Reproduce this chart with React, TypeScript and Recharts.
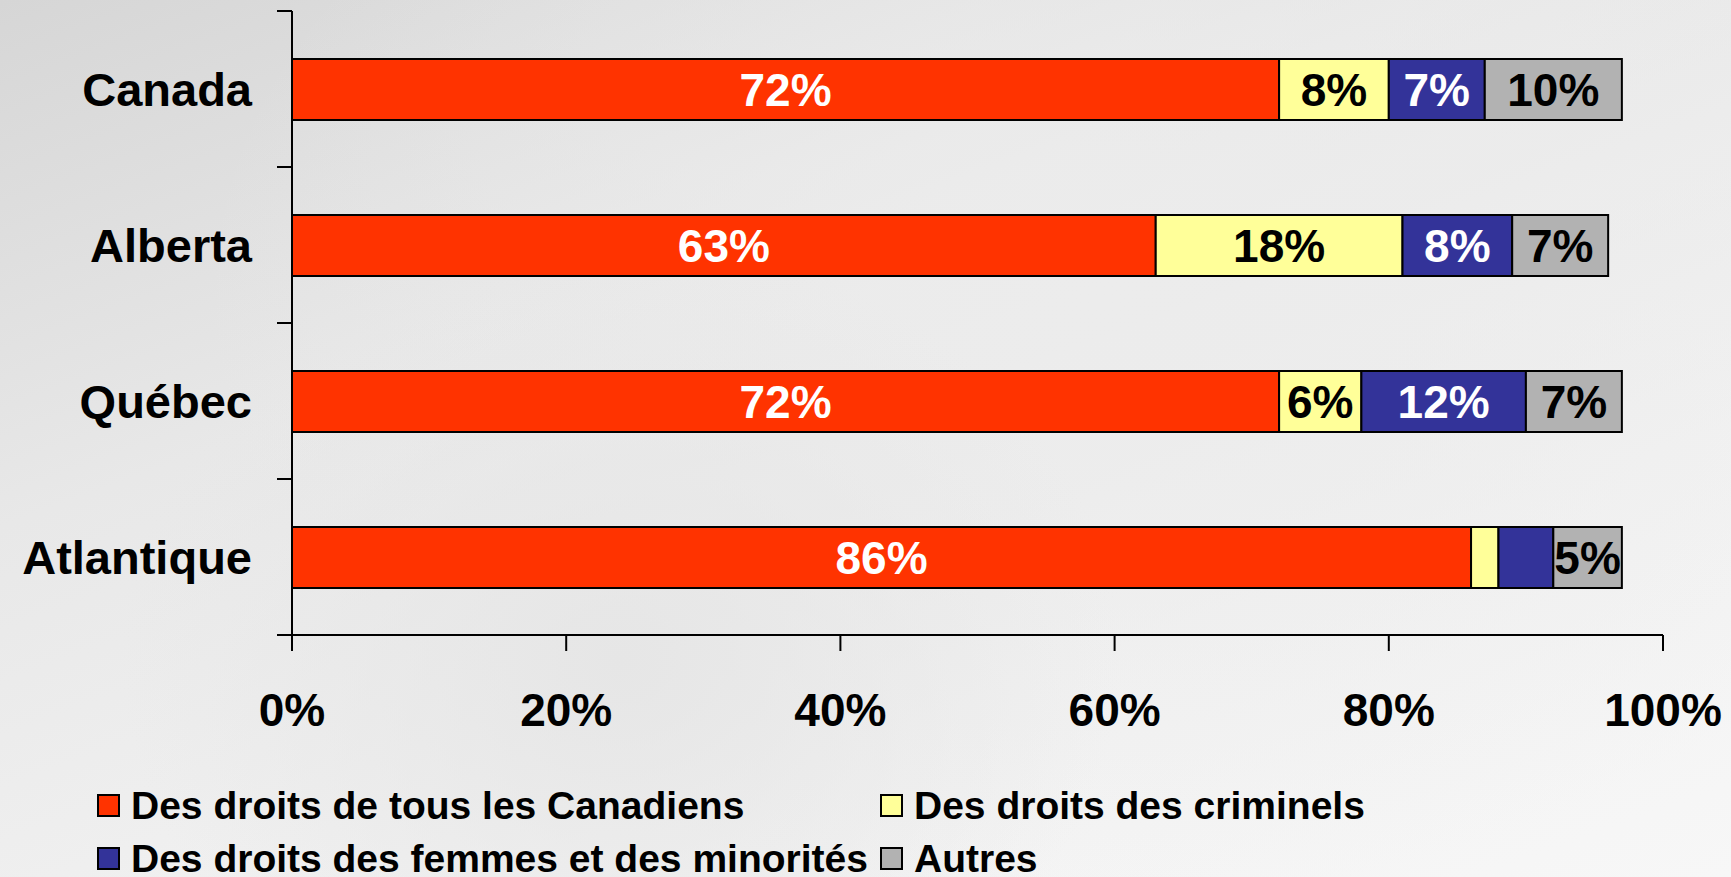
import React from "react";
import { BarChart, Bar, XAxis, YAxis, Legend, LabelList } from "recharts";

const regions = ["Canada", "Alberta", "Québec", "Atlantique"];
const tousCanadiens = [72, 63, 72, 86];
const criminels = [8, 18, 6, 2];
const femmesMinorites = [7, 8, 12, 4];
const autres = [10, 7, 7, 5];
const seriesNames = [
  "Des droits de tous les Canadiens",
  "Des droits des criminels",
  "Des droits des femmes et des minorités",
  "Autres",
];
const xTicks = [0, 20, 40, 60, 80, 100];

const data = regions.map((r, i) => ({
  region: r,
  tous: tousCanadiens[i],
  criminels: criminels[i],
  femmes: femmesMinorites[i],
  autres: autres[i],
}));

const FONT = "'Liberation Sans', Arial, sans-serif";
const Y_TICK = 15;
const Y_GAP = 25;

const pct = (v: any) => (Number(v) >= 5 ? `${v}%` : "");

const RegionTick = (props: any) => {
  const { x, y, payload, index } = props;
  const half = payload?.offset ?? 0;
  const axisX = x + Y_TICK + Y_GAP;
  const last = index === regions.length - 1;
  return (
    <g>
      <line x1={axisX - Y_TICK} x2={axisX} y1={y - half} y2={y - half} stroke="#000" strokeWidth={2} />
      {last && (
        <line x1={axisX - Y_TICK} x2={axisX} y1={y + half} y2={y + half} stroke="#000" strokeWidth={2} />
      )}
      <text
        x={x}
        y={y}
        textAnchor="end"
        dominantBaseline="central"
        fill="#000"
        fontSize={47}
        fontWeight={700}
        fontFamily={FONT}
      >
        {payload.value}
      </text>
    </g>
  );
};

const renderLegend = (props: any) => {
  // keep the series order, not the alphabetical one
  const items = [...(props.payload || [])].sort(
    (a: any, b: any) => seriesNames.indexOf(a.value) - seriesNames.indexOf(b.value)
  );
  return (
    <div
      style={{
        display: "grid",
        gridTemplateColumns: "783px auto",
        paddingLeft: 97,
        fontFamily: FONT,
        fontWeight: 700,
        fontSize: 39,
        color: "#000",
      }}
    >
      {items.map((it: any) => (
        <div key={it.value} style={{ display: "flex", alignItems: "center", height: 53 }}>
          <span
            style={{
              display: "inline-block",
              width: 19,
              height: 19,
              background: it.color,
              border: "2px solid #000",
              marginRight: 11,
            }}
          />
          <span style={{ whiteSpace: "nowrap" }}>{it.value}</span>
        </div>
      ))}
    </div>
  );
};

const labelStyle = { fontSize: 46, fontWeight: 700, fontFamily: FONT };

export default function App() {
  return (
    <div
      style={{
        position: "absolute",
        left: 0,
        top: 0,
        width: 1731,
        height: 877,
        background:
          "radial-gradient(ellipse 500px 420px at 620px 660px, #e6e6e6 0%, rgba(230,230,230,0) 100%), radial-gradient(ellipse 900px 600px at 1100px 300px, #ececec 0%, rgba(236,236,236,0) 100%), linear-gradient(160deg, #d6d6d6 0%, #e8e8e8 35%, #f2f2f2 70%, #f7f7f7 100%)",
      }}
    >
      <BarChart
        width={1731}
        height={877}
        data={data}
        layout="vertical"
        barSize={61}
        margin={{ top: 11, right: 68, bottom: 182, left: 0 }}
      >
        <XAxis
          type="number"
          domain={[0, 100]}
          ticks={xTicks}
          tickFormatter={(v) => `${v}%`}
          height={60}
          tickSize={16}
          tickMargin={42}
          axisLine={{ stroke: "#000", strokeWidth: 2 }}
          tickLine={{ stroke: "#000", strokeWidth: 2 }}
          tick={{ fill: "#000", fontSize: 46, fontWeight: 700, fontFamily: FONT }}
          allowDataOverflow
        />
        <YAxis
          type="category"
          dataKey="region"
          width={292}
          tickSize={Y_TICK}
          tickMargin={Y_GAP}
          axisLine={{ stroke: "#000", strokeWidth: 2 }}
          tickLine={{ stroke: "none" }}
          tick={<RegionTick />}
          interval={0}
        />
        <Legend
          layout="horizontal"
          verticalAlign="middle"
          align="center"
          content={renderLegend}
          wrapperStyle={{ top: 779, left: 0, width: 1731 }}
        />
        <Bar dataKey="tous" name={seriesNames[0]} stackId="a" fill="#FF3300" stroke="#000" strokeWidth={2} isAnimationActive={false}>
          <LabelList dataKey="tous" position="center" formatter={pct} fill="#fff" {...labelStyle} />
        </Bar>
        <Bar dataKey="criminels" name={seriesNames[1]} stackId="a" fill="#FFFF99" stroke="#000" strokeWidth={2} isAnimationActive={false}>
          <LabelList dataKey="criminels" position="center" formatter={pct} fill="#000" {...labelStyle} />
        </Bar>
        <Bar dataKey="femmes" name={seriesNames[2]} stackId="a" fill="#333399" stroke="#000" strokeWidth={2} isAnimationActive={false}>
          <LabelList dataKey="femmes" position="center" formatter={pct} fill="#fff" {...labelStyle} />
        </Bar>
        <Bar dataKey="autres" name={seriesNames[3]} stackId="a" fill="#B2B2B2" stroke="#000" strokeWidth={2} isAnimationActive={false}>
          <LabelList dataKey="autres" position="center" formatter={pct} fill="#000" {...labelStyle} />
        </Bar>
      </BarChart>
    </div>
  );
}
